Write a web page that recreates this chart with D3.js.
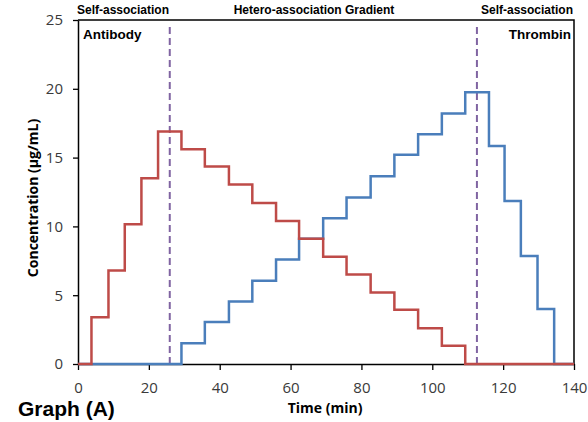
<!DOCTYPE html>
<html>
<head>
<meta charset="utf-8">
<script src="https://cdn.jsdelivr.net/npm/d3@7"></script>
<style>
  body { margin: 0; background: #fff; }
  svg { display: block; }
</style>
</head>
<body>
<div id="chart"></div>
<script>
// step start times (min) and concentration (ug/mL) of each fraction
const antibodyTime = [0, 3.8, 8.6, 13.2, 17.9, 22.6, 29.2, 35.8, 42.6, 49.2, 55.9, 62.4, 69.2, 75.8, 82.6, 89.3, 96.0, 102.7, 109.3, 140];
const antibodyConc = [0, 3.4, 6.8, 10.15, 13.5, 16.9, 15.6, 14.35, 13.05, 11.7, 10.4, 9.1, 7.8, 6.5, 5.2, 3.95, 2.6, 1.33, 0, 0];

const thrombinTime = [0, 29.2, 35.8, 42.6, 49.2, 55.9, 62.4, 69.2, 75.8, 82.6, 89.3, 96.0, 102.7, 109.3, 116.0, 120.4, 125.0, 129.7, 134.4, 140];
const thrombinConc = [0, 1.5, 3.05, 4.55, 6.05, 7.6, 9.1, 10.6, 12.1, 13.65, 15.2, 16.7, 18.2, 19.75, 15.85, 11.85, 7.85, 4.0, 0, 0];

const xTicks = [0, 20, 40, 60, 80, 100, 120, 140];
const yTicks = [0, 5, 10, 15, 20, 25];
const dividers = [25.9, 112.6];

const width = 588;
const height = 422;
const margin = {top: 20, right: 14, bottom: 58, left: 78};

const x = d3.scaleLinear().domain([0, 140]).range([margin.left, width - margin.right]);
const y = d3.scaleLinear().domain([0, 25]).range([height - margin.bottom, margin.top]);

const svg = d3.select("#chart")
    .append("svg")
    .attr("width", width)
    .attr("height", height);

const tickFont = "'Open Sans', sans-serif";
const boldFont = "'Liberation Sans', Arial, sans-serif";

// axes
const xAxis = svg.append("g")
    .attr("transform", `translate(0,${y(0)})`)
    .call(d3.axisBottom(x).tickValues(xTicks).tickSize(6).tickPadding(12).tickSizeOuter(0));

const yAxis = svg.append("g")
    .attr("transform", `translate(${x(0)},0)`)
    .call(d3.axisLeft(y).tickValues(yTicks).tickSize(5).tickPadding(10).tickSizeOuter(0));

[xAxis, yAxis].forEach(function(a) {
    a.select(".domain").attr("stroke", "#000").attr("stroke-width", 1.5);
    a.selectAll(".tick line").attr("stroke", "#000").attr("stroke-width", 1.3);
    a.selectAll(".tick text")
        .attr("fill", "#3a3a3a")
        .style("font-family", tickFont)
        .style("font-size", "15px");
});

// frame top and right
svg.append("path")
    .attr("d", `M${x(0)},${y(25)}H${x(140)}V${y(0)}`)
    .attr("fill", "none")
    .attr("stroke", "#000")
    .attr("stroke-width", 1.5);

// dashed dividers
svg.append("g")
    .selectAll("line")
    .data(dividers)
    .enter()
    .append("line")
    .attr("x1", d => x(d))
    .attr("x2", d => x(d))
    .attr("y1", y(0))
    .attr("y2", y(24.6))
    .attr("stroke", "#8064a2")
    .attr("stroke-width", 2)
    .attr("stroke-dasharray", "7,4");

const line = d3.line()
    .x(d => x(d[0]))
    .y(d => y(d[1]))
    .curve(d3.curveStepAfter);

svg.append("path")
    .datum(d3.zip(thrombinTime, thrombinConc))
    .attr("d", line)
    .attr("fill", "none")
    .attr("stroke", "#4a7ebb")
    .attr("stroke-width", 2.5);

svg.append("path")
    .datum(d3.zip(antibodyTime, antibodyConc))
    .attr("d", line)
    .attr("fill", "none")
    .attr("stroke", "#be4b48")
    .attr("stroke-width", 2.5);

// header labels
const header = [
    {text: "Self-association", x: 77, anchor: "start"},
    {text: "Hetero-association Gradient", x: 314, anchor: "middle"},
    {text: "Self-association", x: 573, anchor: "end"}
];
svg.append("g")
    .selectAll("text")
    .data(header)
    .enter()
    .append("text")
    .attr("x", d => d.x)
    .attr("y", 14)
    .attr("text-anchor", d => d.anchor)
    .style("font-family", boldFont)
    .style("font-weight", "bold")
    .style("font-size", "12px")
    .text(d => d.text);

svg.append("text")
    .attr("x", 83)
    .attr("y", 39)
    .style("font-family", boldFont)
    .style("font-weight", "bold")
    .style("font-size", "13.5px")
    .text("Antibody");

svg.append("text")
    .attr("x", 571)
    .attr("y", 39)
    .attr("text-anchor", "end")
    .style("font-family", boldFont)
    .style("font-weight", "bold")
    .style("font-size", "13.5px")
    .text("Thrombin");

// axis titles
svg.append("text")
    .attr("transform", `translate(38,${(y(0) + y(25)) / 2 + 6}) rotate(-90)`)
    .attr("text-anchor", "middle")
    .style("font-family", tickFont)
    .style("font-weight", "bold")
    .style("font-size", "14px")
    .text("Concentration (µg/mL)");

svg.append("text")
    .attr("x", 325)
    .attr("y", 413)
    .attr("text-anchor", "middle")
    .style("font-family", tickFont)
    .style("font-weight", "bold")
    .style("font-size", "14px")
    .text("Time (min)");

svg.append("text")
    .attr("x", 18)
    .attr("y", 416)
    .style("font-family", boldFont)
    .style("font-weight", "bold")
    .style("font-size", "21px")
    .text("Graph (A)");
</script>
</body>
</html>
